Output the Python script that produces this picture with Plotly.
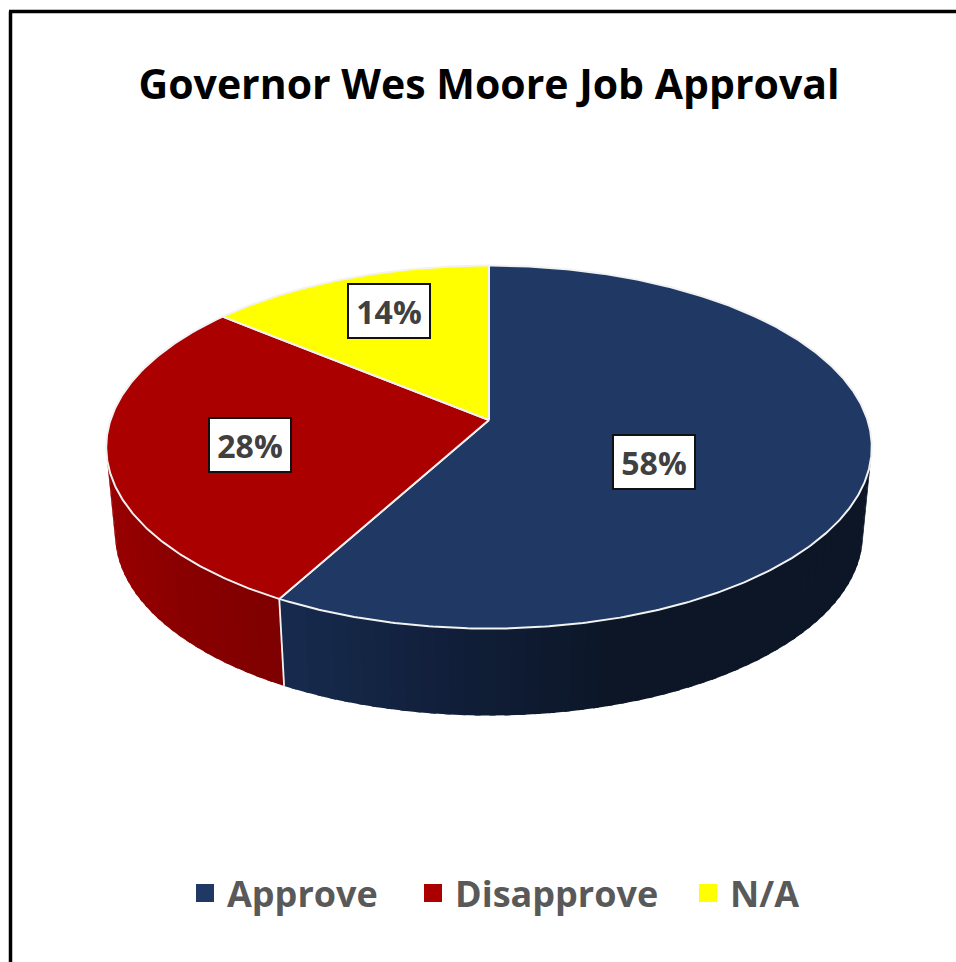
import numpy as np
import plotly.graph_objects as go

categories = ["Approve", "Disapprove", "N/A"]
shares = [58, 28, 14]
labels = ["58%", "28%", "14%"]
top_colors = ["#1F3864", "#AA0000", "#FFFF00"]

# Page-pixel geometry of the tilted disc (the plot sits 8 px from the page corner)
W, H = 956, 962
PAGE = 8
CX, CY = 489, 420
BX, BY = 378.5, 177.5
PERSP = 0.149
DEPTH = 87
BOTTOM_SCALE = 0.977
VIS_FROM, VIS_TO = 100.0, 260.0

label_pos = [(654, 461.5), (250, 444.5), (388.5, 311)]
legend_left = [183, 411, 686]

side_grad = {
    "Approve": ([283, 450, 620, 880], [(24, 43, 78), (17, 31, 58), (12, 22, 38), (13, 23, 38)]),
    "Disapprove": ([105, 180, 280], [(154, 0, 0), (138, 0, 0), (126, 0, 0)]),
}


def px_x(x):
    return (x - PAGE) / (W - PAGE)


def px_y(y):
    return 1 - (y - PAGE) / (H - PAGE)


def project(deg):
    a = np.radians(np.asarray(deg, dtype=float))
    u, v = np.sin(a), -np.cos(a)
    w = 1 - PERSP * v
    return CX + BX * u / w, CY + BY * v / w


def project_bottom(deg):
    x, y = project(deg)
    return CX + BOTTOM_SCALE * (x - CX), y + DEPTH


fig = go.Figure()
edges = np.concatenate([[0], np.cumsum(shares)]) * 3.6

# Side wall: narrow slices shaded by horizontal position
for name, start, end in zip(categories, edges[:-1], edges[1:]):
    if name not in side_grad:
        continue
    lo, hi = max(start, VIS_FROM), min(end, VIS_TO)
    if lo >= hi:
        continue
    steps = np.linspace(lo, hi, int((hi - lo) / 2.0) + 2)
    xs, stops = side_grad[name]
    for a0, a1 in zip(steps[:-1], steps[1:]):
        a1_over = min(a1 + 0.8, hi)
        tx, ty = project([a0, a1_over])
        bx, by = project_bottom([a1_over, a0])
        mid = (tx.mean() + bx.mean()) / 2
        rgb = [np.interp(mid, xs, [s[i] for s in stops]) for i in range(3)]
        col = "rgb(%d,%d,%d)" % tuple(rgb)
        fig.add_trace(go.Scatter(
            x=[*tx, *bx, tx[0]], y=[*ty, *by, ty[0]], mode="lines", fill="toself",
            fillcolor=col, line=dict(color=col, width=0),
            showlegend=False, hoverinfo="skip"))

# White seam where two side walls meet
for edge in edges[1:-1]:
    if VIS_FROM < edge < VIS_TO:
        x0, y0 = project(edge)
        x1, y1 = project_bottom(edge)
        fig.add_trace(go.Scatter(
            x=[x0, x1], y=[y0, y1], mode="lines",
            line=dict(color="#F4F4F4", width=1.8), showlegend=False, hoverinfo="skip"))

# Top face
for start, end, col in zip(edges[:-1], edges[1:], top_colors):
    arc = np.linspace(start, end, int(end - start) * 2 + 2)
    ax, ay = project(arc)
    fig.add_trace(go.Scatter(
        x=[CX, *ax, CX], y=[CY, *ay, CY], mode="lines", fill="toself",
        fillcolor=col, line=dict(color="#F2F2F2", width=2),
        showlegend=False, hoverinfo="skip"))

# Legend entries, one positioned legend each
legend_ids = ["legend", "legend2", "legend3"]
for name, col, lid in zip(categories, top_colors, legend_ids):
    fig.add_trace(go.Scatter(
        x=[None], y=[None], mode="markers", name=name, legend=lid,
        marker=dict(symbol="square", size=16, color=col, line=dict(color=col, width=2))))

for text, (lx, ly) in zip(labels, label_pos):
    fig.add_annotation(
        x=lx, y=ly, text=f"<b>{text}</b>", showarrow=False, xref="x", yref="y",
        font=dict(family="Open Sans", size=32, color="#404040"),
        bgcolor="white", bordercolor="#111111", borderwidth=2,
        width=78, height=50, align="center", valign="middle")

for x0, y0, x1, y1 in [(10.5, 11.5, 10.5, H), (9, 11.5, W, 11.5)]:
    fig.add_shape(type="line", x0=x0, y0=y0, x1=x1, y1=y1,
                  line=dict(color="black", width=3.5), layer="above")

legend_style = dict(
    orientation="h", xanchor="left", y=px_y(893), yanchor="middle",
    bgcolor="rgba(0,0,0,0)", itemclick=False, itemwidth=34,
    font=dict(family="Open Sans", size=36, color="#595959", weight="bold"))

fig.update_layout(
    width=W - PAGE, height=H - PAGE, autosize=False,
    margin=dict(l=0, r=0, t=0, b=0),
    paper_bgcolor="white", plot_bgcolor="white",
    title=dict(text="Governor Wes Moore Job Approval",
               x=px_x(489), xanchor="center", y=px_y(85), yanchor="middle",
               font=dict(family="Open Sans", size=41, color="black", weight="bold")),
    xaxis=dict(range=[PAGE, W], visible=False, fixedrange=True),
    yaxis=dict(range=[H, PAGE], visible=False, fixedrange=True),
    legend=dict(x=px_x(legend_left[0]), **legend_style),
    legend2=dict(x=px_x(legend_left[1]), **legend_style),
    legend3=dict(x=px_x(legend_left[2]), **legend_style),
)

fig.write_html(
    "out.html",
    config={"displayModeBar": False},
    default_width=f"{W - PAGE}px",
    default_height=f"{H - PAGE}px",
    post_script="document.body.style.margin='8px 0 0 8px';document.body.style.overflow='hidden';",
)
